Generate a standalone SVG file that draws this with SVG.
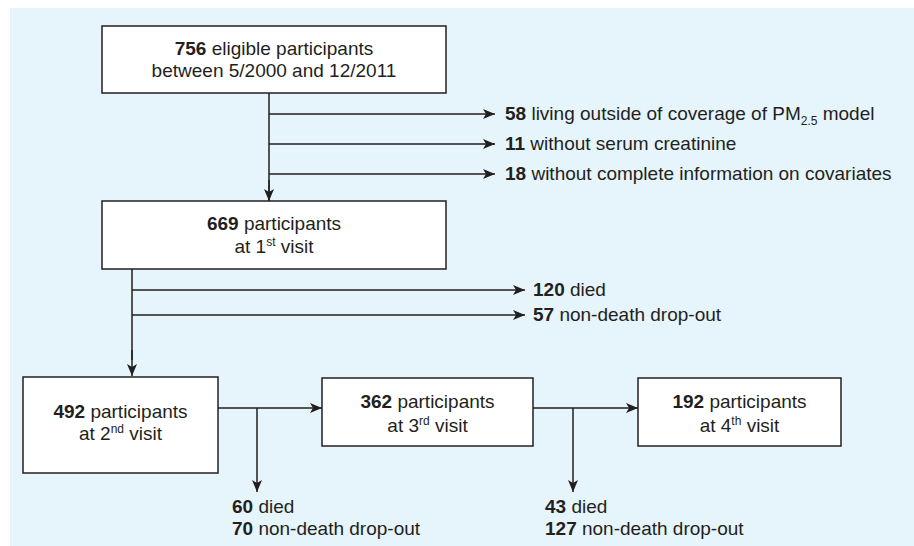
<svg xmlns="http://www.w3.org/2000/svg" width="914" height="546" viewBox="0 0 914 546">
<defs>
<marker id="ah" viewBox="0 0 12 10" refX="12" refY="5" markerWidth="12" markerHeight="10" markerUnits="userSpaceOnUse" orient="auto">
<path d="M0,0 L12,5 L0,10 L3,5 z" fill="#231f20"/>
</marker>
<style>
.box{fill:#ffffff;stroke:#231f20;stroke-width:1.5}
.ln{fill:none;stroke:#231f20;stroke-width:1.5}
.ar{fill:none;stroke:#231f20;stroke-width:1.5;marker-end:url(#ah)}
text{font-family:"Liberation Sans",Arial,sans-serif;font-size:19px;fill:#231f20}
.c{text-anchor:middle}
.b{font-weight:bold}
.s{font-size:12px}
</style>
</defs>
<rect x="10" y="8" width="904" height="538" fill="#e6f4fb"/>
<g id="connectors">
<line class="ln" x1="269" y1="93" x2="269" y2="200"/>
<line class="ar" x1="269" y1="180" x2="269" y2="201"/>
<line class="ar" x1="269" y1="114" x2="495" y2="114"/>
<line class="ar" x1="269" y1="144" x2="495" y2="144"/>
<line class="ar" x1="269" y1="174" x2="495" y2="174"/>
<line class="ln" x1="132" y1="269" x2="132" y2="360"/>
<line class="ar" x1="132" y1="350" x2="132" y2="376"/>
<line class="ar" x1="132" y1="290" x2="525" y2="290"/>
<line class="ar" x1="132" y1="315" x2="525" y2="315"/>
<line class="ar" x1="218" y1="408" x2="322" y2="408"/>
<line class="ar" x1="257" y1="408" x2="257" y2="492"/>
<line class="ar" x1="533" y1="408" x2="638" y2="408"/>
<line class="ar" x1="573" y1="408" x2="573" y2="492"/>
</g>
<g id="n756">
<rect class="box" x="102" y="26" width="344" height="67"/>
<text class="c" x="274" y="55"><tspan class="b">756</tspan> eligible participants</text>
<text class="c" x="274" y="77">between 5/2000 and 12/2011</text>
</g>
<g id="ex58"><text x="505" y="120"><tspan class="b">58</tspan> living outside of coverage of PM<tspan class="s" dy="5">2.5</tspan><tspan dy="-5"> model</tspan></text></g>
<g id="ex11"><text x="505" y="150"><tspan class="b">11</tspan> without serum creatinine</text></g>
<g id="ex18"><text x="505" y="180"><tspan class="b">18</tspan> without complete information on covariates</text></g>
<g id="n669">
<rect class="box" x="102" y="201" width="344" height="68"/>
<text class="c" x="274" y="230"><tspan class="b">669</tspan> participants</text>
<text class="c" x="274" y="253">at 1<tspan class="s" dy="-7">st</tspan><tspan dy="7"> visit</tspan></text>
</g>
<g id="ex120"><text x="533" y="296"><tspan class="b">120</tspan> died</text></g>
<g id="ex57"><text x="533" y="321"><tspan class="b">57</tspan> non-death drop-out</text></g>
<g id="n492">
<rect class="box" x="23" y="377" width="195" height="96"/>
<text class="c" x="120.5" y="418"><tspan class="b">492</tspan> participants</text>
<text class="c" x="120.5" y="440">at 2<tspan class="s" dy="-7">nd</tspan><tspan dy="7"> visit</tspan></text>
</g>
<g id="n362">
<rect class="box" x="322" y="378" width="211" height="68"/>
<text class="c" x="427.5" y="408"><tspan class="b">362</tspan> participants</text>
<text class="c" x="427.5" y="432">at 3<tspan class="s" dy="-7">rd</tspan><tspan dy="7"> visit</tspan></text>
</g>
<g id="n192">
<rect class="box" x="638" y="378" width="203" height="68"/>
<text class="c" x="739.5" y="408"><tspan class="b">192</tspan> participants</text>
<text class="c" x="739.5" y="432">at 4<tspan class="s" dy="-7">th</tspan><tspan dy="7"> visit</tspan></text>
</g>
<g id="ex2">
<text x="232" y="513"><tspan class="b">60</tspan> died</text>
<text x="232" y="535"><tspan class="b">70</tspan> non-death drop-out</text>
</g>
<g id="ex3">
<text x="545" y="513"><tspan class="b">43</tspan> died</text>
<text x="545" y="535"><tspan class="b">127</tspan> non-death drop-out</text>
</g>
</svg>
